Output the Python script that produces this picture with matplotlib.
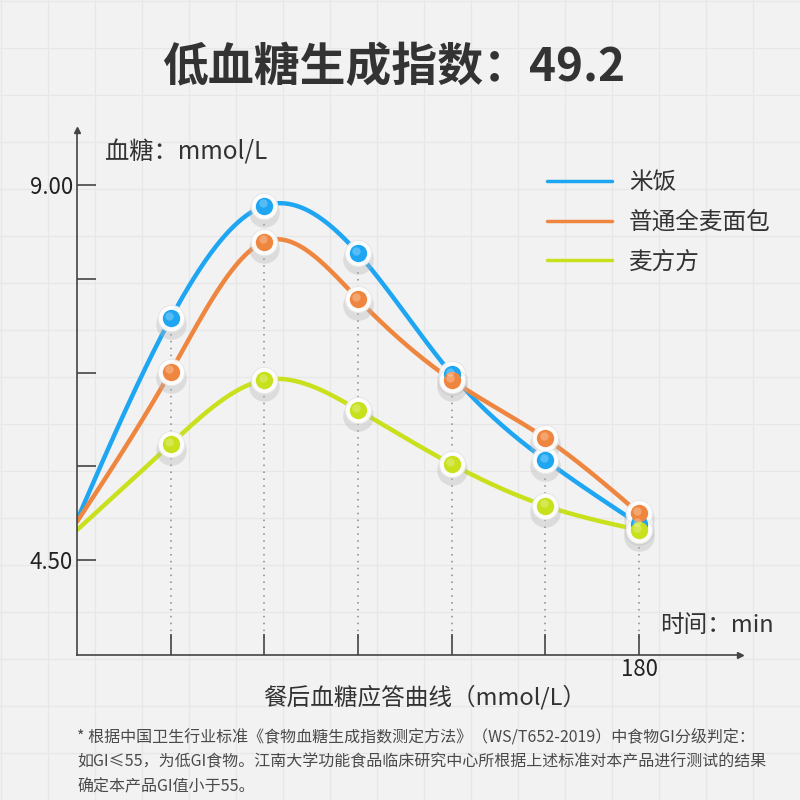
import numpy as np
import matplotlib
matplotlib.use("Agg")
import matplotlib.pyplot as plt

plt.rcParams['font.family'] = ['Noto Sans CJK SC', 'DejaVu Sans']

# data
minutes = [0, 30, 60, 90, 120, 150, 180]
rice = [4.98, 7.40, 8.75, 8.18, 6.73, 5.70, 4.93]
bread = [4.96, 6.76, 8.32, 7.63, 6.66, 5.96, 5.06]
maifangfang = [4.86, 5.89, 6.66, 6.30, 5.65, 5.15, 4.86]
series_names = ["米饭", "普通全麦面包", "麦方方"]
series_colors = ["#1ea6f2", "#ef8640", "#c8e11c"]
y_ticks = [4.5, 5.625, 6.75, 7.875, 9.0]
y_ticklabels = ["4.50", "", "", "", "9.00"]
x_ticks = [30, 60, 90, 120, 150, 180]
x_ticklabels = ["", "", "", "", "", "180"]

title = "低血糖生成指数：49.2"
ylabel = "血糖：mmol/L"
xunit = "时间：min"
xlabel = "餐后血糖应答曲线（mmol/L）"
note = ["* 根据中国卫生行业标准《食物血糖生成指数测定方法》（WS/T652-2019）中食物GI分级判定：",
        "如GI≤55，为低GI食物。江南大学功能食品临床研究中心所根据上述标准对本产品进行测试的结果",
        "确定本产品GI值小于55。"]


def natural_spline(x, y, n=400):
    # plain natural cubic spline, only used to draw a smooth line
    x = np.asarray(x, float)
    y = np.asarray(y, float)
    k = len(x)
    h = np.diff(x)
    A = np.zeros((k, k))
    b = np.zeros(k)
    A[0, 0] = A[-1, -1] = 1
    for i in range(1, k - 1):
        A[i, i - 1] = h[i - 1]
        A[i, i] = 2 * (h[i - 1] + h[i])
        A[i, i + 1] = h[i]
        b[i] = 3 * ((y[i + 1] - y[i]) / h[i] - (y[i] - y[i - 1]) / h[i - 1])
    c = np.linalg.solve(A, b)
    xs = np.linspace(x[0], x[-1], n)
    idx = np.clip(np.searchsorted(x, xs) - 1, 0, k - 2)
    dx = xs - x[idx]
    bb = (y[idx + 1] - y[idx]) / h[idx] - h[idx] * (2 * c[idx] + c[idx + 1]) / 3
    dd = (c[idx + 1] - c[idx]) / (3 * h[idx])
    ys = y[idx] + bb * dx + c[idx] * dx ** 2 + dd * dx ** 3
    return xs, ys


fig = plt.figure(figsize=(8, 8), dpi=100)
fig.patch.set_facecolor("#f2f2f2")

# graph-paper background
bg = fig.add_axes([0, 0, 1, 1], zorder=0)
bg.set_xlim(0, 800)
bg.set_ylim(800, 0)
bg.axis("off")
for g in np.arange(1, 800, 47):
    bg.axvline(g, color="#e7e7e7", lw=0.9)
    bg.axhline(g, color="#e7e7e7", lw=0.9)

# main axes placed so that 0..180 min and 4.5..9.0 land like the reference
ax = fig.add_axes([77 / 800, 145 / 800, 663 / 800, 525 / 800], zorder=1)
ax.patch.set_alpha(0)
ax.set_xlim(0, 212.3)
ax.set_ylim(3.36, 9.66)
for s in ["top", "right"]:
    ax.spines[s].set_visible(False)
for s in ["left", "bottom"]:
    ax.spines[s].set_color("#444444")
    ax.spines[s].set_linewidth(1.2)
ax.plot(1, 0, ">", transform=ax.transAxes, color="#444444", ms=5, clip_on=False)
ax.plot(0, 1, "^", transform=ax.transAxes, color="#444444", ms=5, clip_on=False)

ax.set_yticks(y_ticks)
ax.set_yticklabels(y_ticklabels, fontsize=16, color="#222222")
ax.set_xticks(x_ticks)
ax.set_xticklabels(x_ticklabels, fontsize=16, color="#222222")
ax.tick_params(axis="y", direction="in", length=14, width=1.2, color="#444444", pad=3)
ax.tick_params(axis="x", direction="in", length=15, width=1.2, color="#444444", pad=2)

all_series = [rice, bread, maifangfang]

# dotted drop lines
top_vals = np.max(all_series, axis=0)
for m, v in zip(minutes[1:], top_vals[1:]):
    ax.plot([m, m], [3.36 + 0.2, v], color="#888888", lw=1.1, ls=(0, (1, 3.5)), zorder=1)

for vals, name, col in zip(all_series, series_names, series_colors):
    xs, ys = natural_spline(minutes, vals)
    ax.plot(xs, ys, color=col, lw=3.2, label=name, zorder=2, solid_capstyle="round")

for vals, col in zip(all_series, series_colors):
    mx, my = minutes[1:], vals[1:]
    # soft shadow + white halo + coloured dot
    ax.plot(mx, np.array(my) - 0.07, "o", ms=22, color="#b5b5b5", alpha=0.35, mec="none", zorder=3)
    ax.plot(mx, my, "o", ms=19, color="white", alpha=0.92, mec="#e6e6e6", mew=0.8, zorder=4)
    ax.plot(mx, my, "o", ms=12.5, color=col, mec="none", zorder=5)
    ax.plot(np.array(mx) - 0.6, np.array(my) + 0.03, "o", ms=6, color="white", alpha=0.25, mec="none", zorder=6)

leg = ax.legend(loc="upper left", bbox_to_anchor=(0.709, 0.921), frameon=False,
                borderpad=0, borderaxespad=0,
                fontsize=17, handlelength=2.75, handletextpad=0.72, labelspacing=0.7)
for line in leg.get_lines():
    line.set_linewidth(2.5)
for t in leg.get_texts():
    t.set_color("#333333")

fig.text(0.492, 0.915, title, ha="center", va="center", fontsize=33, fontweight="bold", color="#333333")
fig.text(105 / 800, 1 - 152 / 800, ylabel, ha="left", va="center", fontsize=17.5, color="#333333")
fig.text(660 / 800, 1 - 626 / 800, xunit, ha="left", va="center", fontsize=17, color="#333333")
fig.text(425 / 800, 1 - 697 / 800, xlabel, ha="center", va="center", fontsize=17, color="#333333")
for i, line in enumerate(note):
    fig.text(77 / 800, 1 - (737 + 25 * i) / 800, line, ha="left", va="center", fontsize=11.5, color="#4a4a4a")

fig.savefig("out.png", dpi=100, facecolor=fig.get_facecolor())
